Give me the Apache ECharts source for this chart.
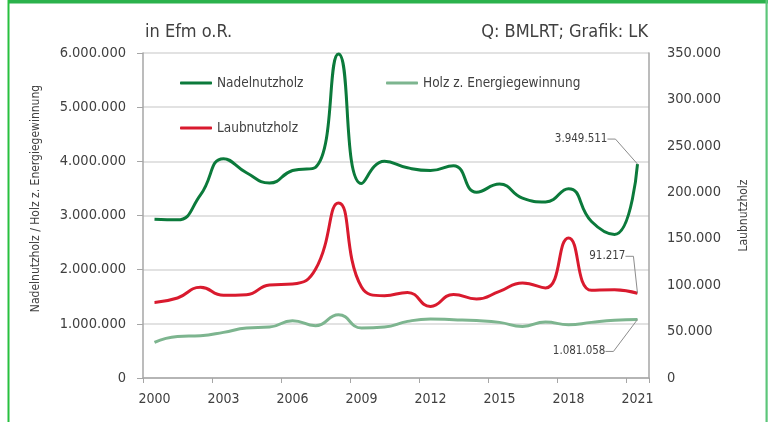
<!DOCTYPE html>
<html>
<head>
<meta charset="utf-8">
<script src="https://cdn.jsdelivr.net/npm/echarts@6/dist/echarts.min.js"></script>
<style>
  html, body { margin: 0; padding: 0; background: #fff; }
  #main { width: 783px; height: 422px; }
</style>
</head>
<body>
<div id="main"></div>
<script>
// Jahre (x-Achse)
var years = ['2000', '2001', '2002', '2003', '2004', '2005', '2006', '2007', '2008', '2009', '2010',
  '2011', '2012', '2013', '2014', '2015', '2016', '2017', '2018', '2019', '2020', '2021'];

// Nadelnutzholz, Efm o.R. (linke Achse)
var nadelnutzholz = [2930000, 2920000, 3380000, 4050000, 3790000, 3600000, 3830000, 3890000, 5980000, 3590000, 4000000,
  3880000, 3830000, 3920000, 3430000, 3580000, 3320000, 3250000, 3495000, 2890000, 2650000, 3949511];

// Laubnutzholz (rechte Achse)
var laubnutzholz = [81400, 86200, 97600, 89000, 89700, 100200, 101200, 117000, 188500, 98000, 88600,
  92200, 77100, 90000, 85000, 93300, 102300, 97000, 150800, 94400, 95100, 91217];

// Holz z. Energiegewinnung (linke Achse)
var energieholz = [657000, 768000, 781000, 842000, 923000, 940000, 1058000, 966000, 1169000, 923000, 940000,
  1045000, 1089000, 1076000, 1060000, 1027000, 953000, 1034000, 984000, 1027000, 1064000, 1081058];

var font = "'DejaVu Sans Condensed', 'Liberation Sans Narrow', sans-serif";
var textGrey = '#404040';

// Tausenderpunkte
function fmt(v) {
  return String(v).replace(/\B(?=(\d{3})+(?!\d))/g, '.');
}

// nur der letzte Punkt bekommt ein Label
function withLastLabel(arr) {
  return arr.map(function (v, i) {
    return i === arr.length - 1 ? { value: v, label: { show: true }, labelLine: { show: true } } : v;
  });
}

var chart = echarts.init(document.getElementById('main'));

var endLabel = function (dist) {
  return {
    show: false,
    position: 'left',
    distance: dist,
    fontSize: 11.5,
    color: textGrey,
    fontFamily: font,
    formatter: function (p) { return fmt(p.value); }
  };
};
var guide = { show: false, length2: 8, lineStyle: { color: '#8c8c8c', width: 1 } };

var option = {
  backgroundColor: '#fff',
  textStyle: { fontFamily: font, color: textGrey },
  graphic: [
    { type: 'rect', shape: { x: 8, y: 0, width: 760, height: 3.5 }, style: { fill: '#2bb24c' }, silent: true },
    { type: 'rect', shape: { x: 7.5, y: 0, width: 2, height: 422 }, style: { fill: '#27c03f' }, silent: true },
    { type: 'rect', shape: { x: 765.5, y: 0, width: 2.2, height: 422 }, style: { fill: '#5cc67a' }, silent: true }
  ],
  title: [
    { text: 'in Efm o.R.', left: 140, top: 18, textStyle: { fontSize: 18, fontWeight: 'normal', color: textGrey, fontFamily: font } },
    { text: 'Q: BMLRT; Grafik: LK', right: 130, top: 18, textStyle: { fontSize: 18, fontWeight: 'normal', color: textGrey, fontFamily: font } }
  ],
  legend: [
    {
      data: ['Nadelnutzholz', 'Laubnutzholz'],
      orient: 'vertical',
      left: 175, top: 71,
      icon: 'roundRect',
      itemWidth: 32, itemHeight: 3,
      itemGap: 31,
      textStyle: { fontSize: 13.5, color: textGrey, fontFamily: font }
    },
    {
      data: ['Holz z. Energiegewinnung'],
      left: 381, top: 71,
      icon: 'roundRect',
      itemWidth: 32, itemHeight: 3,
      textStyle: { fontSize: 13.5, color: textGrey, fontFamily: font }
    }
  ],
  grid: { left: 143, right: 134, top: 53, bottom: 44, containLabel: false },
  xAxis: {
    type: 'category',
    data: years,
    boundaryGap: true,
    axisLine: { lineStyle: { color: '#a6a6a6', width: 1.5 } },
    axisTick: { show: true, interval: 2, length: 5, lineStyle: { color: '#a6a6a6' } },
    axisLabel: { interval: 2, margin: 14, fontSize: 14, color: textGrey, fontFamily: font }
  },
  yAxis: [
    {
      type: 'value',
      min: 0, max: 6000000, interval: 1000000,
      name: 'Nadelnutzholz / Holz z. Energiegewinnung',
      nameLocation: 'middle',
      nameRotate: 90,
      nameGap: 101,
      nameTextStyle: { fontSize: 12, color: textGrey, fontFamily: font, padding: [0, 0, 0, 34] },
      axisLine: { show: true, lineStyle: { color: '#a6a6a6', width: 1.5 } },
      axisTick: { show: true, length: 6, lineStyle: { color: '#a6a6a6' } },
      axisLabel: { margin: 17, fontSize: 14.5, color: textGrey, fontFamily: font, formatter: fmt },
      splitLine: { lineStyle: { color: '#d9d9d9', width: 1.5 } }
    },
    {
      type: 'value',
      min: 0, max: 350000, interval: 50000,
      name: 'Laubnutzholz',
      nameLocation: 'middle',
      nameRotate: 90,
      nameGap: 89,
      nameTextStyle: { fontSize: 12, color: textGrey, fontFamily: font },
      axisLine: { show: true, lineStyle: { color: '#a6a6a6', width: 1.5 } },
      axisTick: { show: false },
      axisLabel: { margin: 18, fontSize: 14.5, color: textGrey, fontFamily: font, formatter: fmt },
      splitLine: { show: false }
    }
  ],
  series: [
    {
      name: 'Nadelnutzholz',
      type: 'line',
      yAxisIndex: 0,
      smooth: 0.5,
      showSymbol: true,
      symbol: 'circle',
      symbolSize: 0.1,
      data: withLastLabel(nadelnutzholz),
      lineStyle: { color: '#0b7a3b', width: 3 },
      itemStyle: { color: '#0b7a3b' },
      label: endLabel(30),
      labelLayout: { dy: -25 },
      labelLine: guide,
      z: 4
    },
    {
      name: 'Holz z. Energiegewinnung',
      type: 'line',
      yAxisIndex: 0,
      smooth: 0.5,
      showSymbol: true,
      symbol: 'circle',
      symbolSize: 0.1,
      data: withLastLabel(energieholz),
      lineStyle: { color: '#7db58f', width: 3 },
      itemStyle: { color: '#7db58f' },
      label: endLabel(32),
      labelLayout: { dy: 32 },
      labelLine: guide,
      z: 2
    },
    {
      name: 'Laubnutzholz',
      type: 'line',
      yAxisIndex: 1,
      smooth: 0.5,
      showSymbol: true,
      symbol: 'circle',
      symbolSize: 0.1,
      data: withLastLabel(laubnutzholz),
      lineStyle: { color: '#d91a2e', width: 3 },
      itemStyle: { color: '#d91a2e' },
      label: endLabel(12),
      labelLayout: { dy: -37 },
      labelLine: guide,
      z: 3
    }
  ]
};

if (option && typeof option === 'object') {
  chart.setOption(option, true);
}
</script>
</body>
</html>
